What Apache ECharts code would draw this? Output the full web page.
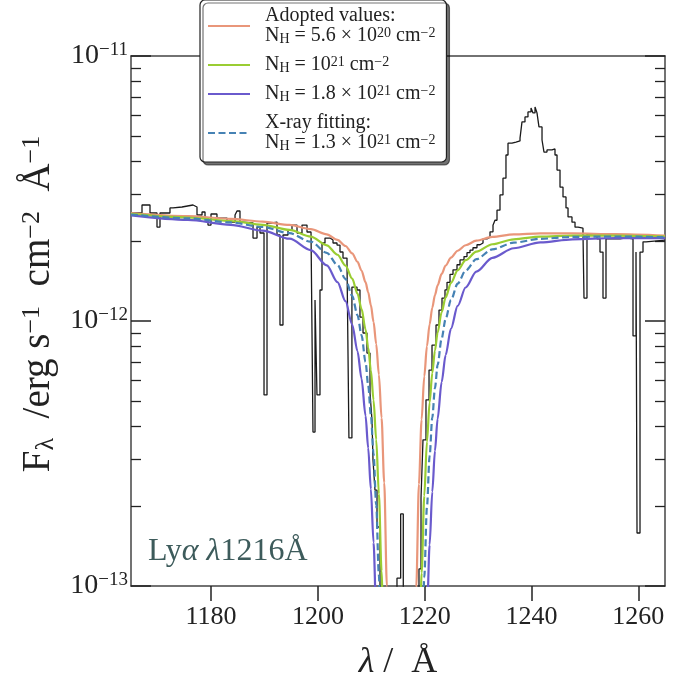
<!DOCTYPE html>
<html><head><meta charset="utf-8">
<script src="https://cdn.jsdelivr.net/npm/echarts@6/dist/echarts.min.js"></script>
<style>html,body{margin:0;padding:0;background:#fff}#c{width:691px;height:687px}</style>
</head><body><div id="c"></div>
<script>
// ---- data (flux in units of 1e-13 erg s^-1 cm^-2 A^-1) ----
const specWave = [1165.00,1167.06,1168.56,1169.87,1170.43,1172.30,1172.87,1174.55,1176.61,1177.36,1178.30,1178.86,1179.42,1179.98,1181.10,1182.98,1184.48,1184.85,1185.41,1185.97,1187.85,1188.60,1189.16,1189.91,1190.47,1191.40,1192.34,1192.90,1193.46,1194.40,1195.15,1196.09,1197.02,1197.96,1198.71,1199.08,1199.46,1199.83,1200.39,1200.77,1201.33,1202.27,1202.83,1203.58,1204.14,1204.70,1205.45,1205.81,1206.37,1207.32,1207.88,1208.45,1209.19,1209.76,1210.13,1210.32,1210.69,1211.07,1211.63,1214.81,1215.50,1215.99,1218.93,1219.31,1219.68,1220.24,1220.81,1221.37,1222.12,1222.68,1223.24,1223.80,1224.18,1224.74,1225.30,1226.05,1226.61,1227.36,1227.92,1228.48,1229.04,1229.79,1230.36,1230.92,1231.67,1232.23,1232.79,1233.16,1233.54,1234.10,1234.66,1235.22,1235.60,1236.35,1237.10,1237.85,1238.22,1238.78,1239.34,1239.91,1240.28,1240.66,1241.03,1241.40,1241.97,1242.34,1242.90,1243.84,1244.40,1244.78,1245.34,1245.90,1246.46,1246.84,1247.58,1248.15,1248.71,1249.64,1249.83,1250.39,1251.33,1252.27,1252.83,1253.39,1253.95,1255.26,1256.57,1257.70,1259.01,1259.57,1259.76,1260.32,1260.88,1261.44,1265.00];
const specFlux = [25.56,27.40,25.56,22.62,25.56,26.70,26.93,27.40,26.93,25.12,25.78,24.46,23.02,25.34,24.46,23.63,25.12,26.01,23.63,23.43,20.56,22.62,21.48,5.26,23.43,23.63,21.11,9.66,21.11,22.04,23.02,21.48,23.02,21.67,22.04,3.81,12.00,5.26,13.09,19.69,20.56,20.21,19.69,19.35,18.21,17.28,16.56,3.62,13.43,13.09,10.35,9.01,7.57,5.35,4.23,2.99,2.30,1.67,0.5,1.07,1.87,0.5,1.16,2.15,3.56,5.04,6.53,8.11,9.66,11.0,12.2,13.1,14.0,15.0,15.6,16.3,17.0,17.5,18.1,18.5,18.9,19.4,19.7,20.4,20.7,21.7,23.0,24.0,26.2,29.9,34.6,42.3,46.9,47.3,47.8,49.0,56.4,58.9,61.5,63.7,61.0,64.2,61.0,54.0,48.2,43.4,44.2,44.6,42.3,37.1,32.0,29.4,26.7,24.7,23.6,22.6,22.4,21.5,12.2,21.3,21.3,20.4,18.2,12.2,20.4,20.4,20.6,20.4,8.78,18.2,1.585,18.2,19.9,20.2,20.2];

const modelWave = [1165,1175.67,1183.67,1189.67,1194.67,1198.67,1201.67,1203.67,1205.17,1206.42,1207.42,1208.17,1208.92,1209.42,1209.92,1210.42,1210.92,1211.42,1211.92,1212.42,1212.92,1213.17,
                   1218.17,1218.42,1218.92,1219.42,1219.92,1220.42,1220.92,1221.42,1221.92,1222.42,1223.17,1223.92,1224.92,1226.17,1227.67,1229.67,1232.67,1236.67,1241.67,1247.67,1255.67,1265];
const fluxAdopted = [25.54,24.87,24.28,23.71,23.04,22.22,21.24,20.25,19.19,17.99,16.71,15.50,14.01,12.83,11.47,9.925,8.183,6.283,4.311,2.455,1.001,0.516,
                     0.511,0.990,2.424,4.248,6.179,8.032,9.721,11.22,12.52,13.64,15.05,16.18,17.34,18.41,19.31,20.10,20.78,21.22,21.41,21.41,21.26,20.98];
const fluxNH10 = [25.36,24.58,23.84,23.06,22.08,20.82,19.30,17.78,16.19,14.45,12.68,11.11,9.285,7.940,6.508,5.028,3.566,2.226,1.137,0.4163,null,null,
                  null,null,0.411,1.120,2.189,3.500,4.925,6.363,7.748,9.042,10.79,12.28,13.93,15.53,16.96,18.27,19.48,20.34,20.82,21.02,21.01,20.82];
const fluxNH18 = [25.02,24.06,23.06,21.93,20.44,18.51,16.22,14.03,11.88,9.698,7.686,6.058,4.393,3.316,2.320,1.459,0.7866,null,null,null,null,null,
                  null,null,null,null,null,0.7721,1.429,2.268,3.236,4.278,5.882,7.442,9.352,11.40,13.38,15.35,17.31,18.82,19.80,20.34,20.57,20.53];
const fluxXray = [25.23,24.39,23.54,22.63,21.45,19.92,18.08,16.26,14.41,12.44,10.51,8.846,7.010,5.721,4.419,3.160,2.022,1.096,0.4576,null,null,null,
                  null,null,null,0.4509,1.078,1.985,3.095,4.320,5.583,6.827,8.589,10.18,12.00,13.83,15.51,17.11,18.64,19.75,20.43,20.76,20.84,20.71];

const xTicks = [1180,1200,1220,1240,1260];
const minorMultipliers = [2,3,4,5,6,7,8,9];
const fluxUnitExp = -13;

// ---- chart ----
const FONT = "'Liberation Serif','DejaVu Serif',serif";
const INK = '#222';
const pairs = (w, f) => w.map((x, i) => [x, f[i]]).filter(p => p[1] != null);
const minorPos = [];
[0, 1].forEach(d => minorMultipliers.forEach(k => minorPos.push(d + Math.log10(k))));

const chart = echarts.init(document.getElementById('c'), null, {renderer: 'canvas'});

const legendText = {
  adopted: '{g| }{t|Adopted values:}\n{g| }{t|N}{sub|H}{t| = 5.6 × 10}{sup|20}{t| cm}{sup|−2}',
  nh10: '{g| }{t|N}{sub|H}{t| = 10}{sup|21}{t| cm}{sup|−2}',
  nh18: '{g| }{t|N}{sub|H}{t| = 1.8 × 10}{sup|21}{t| cm}{sup|−2}',
  xray: '{g| }{t|X-ray fitting:}\n{g| }{t|N}{sub|H}{t| = 1.3 × 10}{sup|21}{t| cm}{sup|−2}'
};

function modelSeries(name, flux, color, dash) {
  return {
    name, type: 'line', data: pairs(modelWave, flux), smooth: 0.3, smoothMonotone: 'x',
    symbol: 'none', showSymbol: false, silent: true, z: 3,
    lineStyle: {color, width: 2.2, type: dash ? [7, 3.5] : 'solid'},
    itemStyle: {color}
  };
}

const option = {
  animation: false,
  backgroundColor: '#fff',
  grid: {left: 131, right: 26, top: 56, bottom: 101},
  xAxis: [
    {type: 'value', min: 1165, max: 1265, position: 'bottom',
     axisLine: {show: true, onZero: false, lineStyle: {color: '#444', width: 1.5}},
     axisTick: {show: true, inside: false, length: 15, customValues: xTicks, lineStyle: {color: INK, width: 1.5}},
     axisLabel: {show: true, customValues: xTicks, margin: 18, fontSize: 26, fontFamily: FONT, color: INK,
                 formatter: v => String(v)},
     splitLine: {show: false},
     name: '{i|λ}{t| /  Å}', nameLocation: 'middle', nameGap: 59,
     nameTextStyle: {rich: {i: {fontSize: 36, fontStyle: 'italic', fontFamily: FONT, color: INK}, t: {fontSize: 36, fontFamily: FONT, color: INK}}}
    },
    {type: 'value', min: 1165, max: 1265, position: 'top',
     axisLine: {show: true, onZero: false, lineStyle: {color: '#444', width: 1.5}},
     axisTick: {show: false}, axisLabel: {show: false}, splitLine: {show: false}}
  ],
  yAxis: [
    {type: 'log', logBase: 10, min: 1, max: 100, position: 'left',
     axisLine: {show: true, onZero: false, lineStyle: {color: '#444', width: 1.5}},
     axisTick: {show: true, inside: true, length: 20, lineStyle: {color: INK, width: 1.5}},
     axisLabel: {show: true, margin: 3,
       formatter: v => { const e = Math.round(Math.log10(v)) + fluxUnitExp; return '{b|10}{s|' + (e < 0 ? '−' : '') + Math.abs(e) + '}'; },
       rich: {b: {fontSize: 28, lineHeight: 30, fontFamily: FONT, color: INK},
              s: {fontSize: 19, lineHeight: 6, verticalAlign: 'top', fontFamily: FONT, color: INK}}},
     splitLine: {show: false}, minorTick: {show: false},
     name: '{p| }{t|F}{sub|λ}{t|  /erg s}{sup|−1}{t|  cm}{sup|−2}{t|  Å}{sup|−1}',
     nameLocation: 'middle', nameRotate: 90, nameGap: 72,
     nameTextStyle: {rich: {
       p: {width: 34, fontSize: 10},
       t: {fontSize: 39, lineHeight: 40, fontFamily: FONT, color: INK},
       sub: {fontSize: 26, lineHeight: 10, verticalAlign: 'bottom', fontFamily: FONT, color: INK},
       sup: {fontSize: 26, lineHeight: 6, verticalAlign: 'top', fontFamily: FONT, color: INK}}}
    },
    {type: 'log', logBase: 10, min: 1, max: 100, position: 'right',
     axisLine: {show: true, onZero: false, lineStyle: {color: '#444', width: 1.5}},
     axisTick: {show: true, inside: true, length: 20, lineStyle: {color: INK, width: 1.5}},
     axisLabel: {show: false}, splitLine: {show: false}},
    {type: 'value', min: 0, max: 2, position: 'left',
     axisLine: {show: false, onZero: false},
     axisTick: {show: true, inside: true, length: 10, customValues: minorPos, lineStyle: {color: INK, width: 1.3}},
     axisLabel: {show: false}, splitLine: {show: false}},
    {type: 'value', min: 0, max: 2, position: 'right',
     axisLine: {show: false, onZero: false},
     axisTick: {show: true, inside: true, length: 10, customValues: minorPos, lineStyle: {color: INK, width: 1.3}},
     axisLabel: {show: false}, splitLine: {show: false}}
  ],
  legend: {
    orient: 'vertical', left: 200, top: 0, itemWidth: 42, itemHeight: 14, itemGap: 9,
    padding: [6, 11, 9, 7], backgroundColor: '#fff', borderColor: '#222', borderWidth: 1.2, borderRadius: 5,
    shadowColor: 'rgba(0,0,0,0.55)', shadowBlur: 0, shadowOffsetX: 3, shadowOffsetY: 3,
    selectedMode: false,
    itemStyle: {opacity: 0},
    data: ['adopted', 'nh10', 'nh18', 'xray'],
    formatter: n => legendText[n],
    textStyle: {color: INK, rich: {
      g: {width: 10, fontSize: 20, fontFamily: FONT},
      t: {fontSize: 20, lineHeight: 20, fontFamily: FONT, color: INK},
      sub: {fontSize: 14, lineHeight: 6, verticalAlign: 'bottom', fontFamily: FONT, color: INK},
      sup: {fontSize: 14, lineHeight: 4, verticalAlign: 'top', fontFamily: FONT, color: INK}}}
  },
  graphic: [{
    type: 'text', left: 148, top: 536, z: 10,
    style: {text: '{t|Ly}{i|α}{t| }{i|λ}{t|1216Å}',
      rich: {t: {fontSize: 32, lineHeight: 36, fontFamily: FONT, fill: '#3d5b5b', color: '#3d5b5b'},
             i: {fontSize: 32, lineHeight: 36, fontStyle: 'italic', fontFamily: FONT, fill: '#3d5b5b', color: '#3d5b5b'}}}
  }],
  series: [
    {name: 'spectrum', type: 'line', step: 'end', data: pairs(specWave, specFlux), symbol: 'none', showSymbol: false,
     silent: true, z: 2, lineStyle: {color: '#1a1a1a', width: 1.3}, itemStyle: {color: '#1a1a1a'}},
    modelSeries('adopted', fluxAdopted, '#E9967A', false),
    modelSeries('nh10', fluxNH10, '#9ACD32', false),
    modelSeries('nh18', fluxNH18, '#6A5ACD', false),
    modelSeries('xray', fluxXray, '#4682B4', true)
  ]
};
chart.setOption(option);
</script></body></html>
